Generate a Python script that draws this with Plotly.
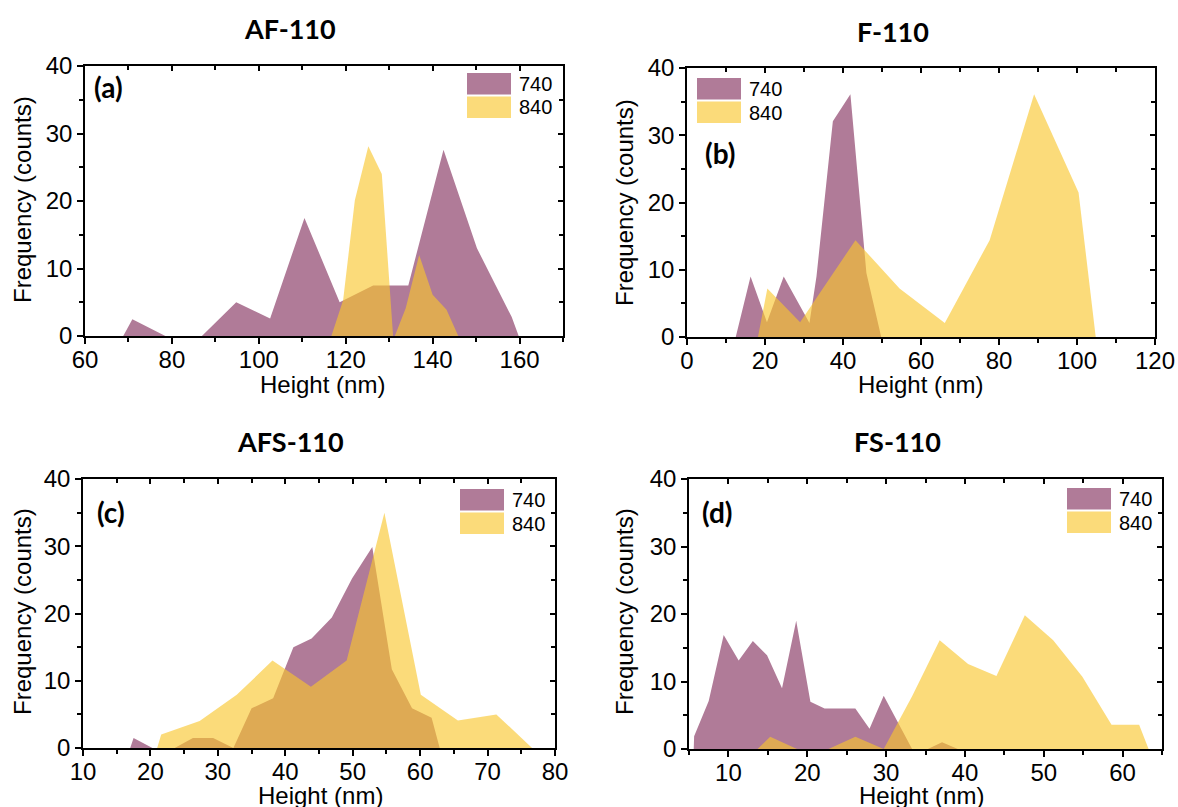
import plotly.graph_objects as go

W, H = 1178, 807

# ---------------- data ----------------
series_names = ["740", "840"]
titles = ["AF-110", "F-110", "AFS-110", "FS-110"]
panel_labels = ["(a)", "(b)", "(c)", "(d)"]
x_title = "Height (nm)"
y_title = "Frequency (counts)"

a_x740 = [68.8, 70.9, 78.5, 86.9, 94.8, 102.6, 110.5, 118.6, 126.3, 134.4, 142.5, 150.2, 158.2, 159.8]
a_y740 = [0, 2.5, 0, 0, 5.0, 2.6, 17.5, 5.0, 7.5, 7.5, 27.6, 13.0, 2.8, 0]
a_x840 = [116.7, 119.4, 122.1, 125.2, 128.3, 130.9, 131.3, 133.8, 136.9, 140.0, 143.2, 145.9]
a_y840 = [0, 5.3, 20.1, 28.1, 24.0, 0, 0, 4.1, 12.0, 6.1, 3.9, 0]

b_x740 = [12.5, 16.3, 20.5, 24.8, 31.4, 33.2, 37.4, 41.9, 46.0, 49.8]
b_y740 = [0, 9.0, 2.2, 9.0, 2.1, 9.0, 32.1, 36.1, 9.5, 0]
b_x840 = [18.2, 20.6, 29.0, 43.2, 54.5, 66.1, 77.6, 89.0, 100.4, 104.8]
b_y840 = [0, 7.2, 2.2, 14.4, 7.2, 2.1, 14.4, 36.1, 21.5, 0]

c_x740 = [17.0, 17.5, 20.3, 23.6, 26.3, 29.3, 32.3, 35.0, 38.2, 41.2, 43.9, 46.9, 49.9, 52.9, 55.8, 58.8, 61.7, 62.9]
c_y740 = [0, 1.5, 0, 0, 1.5, 1.5, 0, 5.9, 7.4, 15.0, 16.3, 19.4, 25.2, 29.9, 11.7, 5.9, 4.5, 0]
c_x840 = [21.0, 21.6, 27.3, 32.8, 38.1, 43.8, 49.1, 54.7, 60.1, 65.6, 71.3, 76.6]
c_y840 = [0, 2.0, 4.0, 7.9, 13.0, 9.1, 13.0, 35.0, 7.9, 4.1, 5.0, 0]

d_x740 = [5.6, 5.65, 7.5, 9.4, 11.3, 13.1, 14.9, 16.8, 18.6, 20.4, 22.2, 24.1, 26.1, 27.9, 29.7, 33.3, 35.3, 37.1, 39.1]
d_y740 = [0, 1.9, 7.1, 16.9, 13.1, 16.0, 13.9, 9.0, 19.0, 7.0, 6.0, 6.0, 6.0, 3.0, 7.9, 0, 0, 1.0, 0]
d_x840 = [13.7, 15.3, 18.7, 22.7, 26.1, 29.7, 33.3, 36.8, 40.4, 44.0, 47.6, 51.2, 54.9, 58.6, 62.1, 63.3]
d_y840 = [0, 1.8, 0, 0, 1.8, 0, 7.8, 16.1, 12.6, 10.8, 19.8, 16.1, 10.7, 3.6, 3.6, 0]

x_ranges = [[60, 170], [0, 120], [10, 80], [5, 65]]
x_tick0 = [60, 0, 10, 10]
x_dtick = [20, 20, 10, 10]
x_minor = [10, 10, 5, 5]
y_range = [0, 40]

# ---------------- styling / layout ----------------
PURPLE = "rgb(176,123,152)"
YELLOW = "rgba(248,198,45,0.63)"
ARIAL = "Liberation Sans, Arial, sans-serif"
TICK_FONT = dict(family=ARIAL, size=24, color="black")
BOLD_FONT = "Lato, Open Sans, sans-serif"

# plot-area pixel boxes (left, right, top, bottom)
boxes = [(85, 563, 66, 336), (687, 1155, 68, 337), (83, 555, 479, 748), (689, 1162, 479, 749)]
title_pos = [(290, 28), (893, 32), (290, 441), (897, 441)]
label_pos = [(108, 87), (720, 153), (111, 512), (717, 512)]
legend_pos = [(467, 73), (697, 78), (460, 489), (1067, 488)]
xlab_pos = [(322, 384), (920, 384), (320, 795), (922, 795)]
ylab_pos = [(22, 200), (624, 203), (22, 612), (624, 612)]

data = [(a_x740, a_y740, a_x840, a_y840), (b_x740, b_y740, b_x840, b_y840),
        (c_x740, c_y740, c_x840, c_y840), (d_x740, d_y740, d_x840, d_y840)]


def px(x):
    return x / W


def py(y):
    return 1 - y / H


fig = go.Figure()
layout = dict(width=W, height=H, margin=dict(l=0, r=0, t=0, b=0, autoexpand=False),
              plot_bgcolor="white", paper_bgcolor="white", showlegend=False)
annotations = []
shapes = []

for i in range(4):
    n = i + 1
    xs = "" if n == 1 else str(n)
    xt = str(n + 4)
    l, r, t, b = boxes[i]
    x740, y740, x840, y840 = data[i]
    fig.add_trace(go.Scatter(x=x740, y=y740, fill="tozeroy", mode="lines",
                             line=dict(width=0, color=PURPLE), fillcolor=PURPLE,
                             name=series_names[0], xaxis="x" + xs, yaxis="y" + xs,
                             hoverinfo="x+y"))
    fig.add_trace(go.Scatter(x=x840, y=y840, fill="tozeroy", mode="lines",
                             line=dict(width=0, color=YELLOW), fillcolor=YELLOW,
                             name=series_names[1], xaxis="x" + xs, yaxis="y" + xs,
                             hoverinfo="x+y"))
    # invisible trace to activate mirrored (inward-tick) top/right axes
    fig.add_trace(go.Scatter(x=[x_ranges[i][0]], y=[0], mode="markers",
                             marker=dict(opacity=0), hoverinfo="skip",
                             xaxis="x" + xt, yaxis="y" + xt))
    common = dict(showgrid=False, zeroline=False, automargin=False)
    layout["xaxis" + xs] = dict(domain=[px(l), px(r)], range=x_ranges[i], anchor="y" + xs,
                                tickmode="linear", tick0=x_tick0[i], dtick=x_dtick[i],
                                ticks="outside", ticklen=6, tickwidth=1.5, tickcolor="black",
                                minor=dict(tickmode="linear", tick0=x_tick0[i], dtick=x_minor[i],
                                           ticks="outside", ticklen=4, tickwidth=1.5, tickcolor="black"),
                                showline=True, linecolor="black", linewidth=1.6, mirror=True,
                                tickfont=TICK_FONT, ticklabelstandoff=-5, **common)
    layout["yaxis" + xs] = dict(domain=[py(b), py(t)], range=y_range, anchor="x" + xs,
                                tickmode="linear", tick0=0, dtick=10,
                                ticks="outside", ticklen=6, tickwidth=1.5, tickcolor="black",
                                minor=dict(tickmode="linear", tick0=0, dtick=5,
                                           ticks="outside", ticklen=4, tickwidth=1.5, tickcolor="black"),
                                showline=True, linecolor="black", linewidth=1.6, mirror=True,
                                tickfont=TICK_FONT, ticklabelstandoff=0, **common)
    layout["xaxis" + xt] = dict(overlaying="x" + xs, side="top", anchor="y" + xs, range=x_ranges[i],
                                tickmode="linear", tick0=x_tick0[i], dtick=x_dtick[i],
                                ticks="inside", ticklen=5, tickwidth=1.5, tickcolor="black",
                                minor=dict(tickmode="linear", tick0=x_tick0[i], dtick=x_minor[i],
                                           ticks="inside", ticklen=4, tickwidth=1.5, tickcolor="black"),
                                showticklabels=False, showline=False, **common)
    layout["yaxis" + xt] = dict(overlaying="y" + xs, side="right", anchor="x" + xs, range=y_range,
                                tickmode="linear", tick0=0, dtick=10,
                                ticks="inside", ticklen=5, tickwidth=1.5, tickcolor="black",
                                minor=dict(tickmode="linear", tick0=0, dtick=5,
                                           ticks="inside", ticklen=4, tickwidth=1.5, tickcolor="black"),
                                showticklabels=False, showline=False, **common)

    # titles
    tx, ty = title_pos[i]
    annotations.append(dict(text="<b>%s</b>" % titles[i], x=px(tx), y=py(ty), xref="paper", yref="paper",
                            showarrow=False, xanchor="center", yanchor="middle",
                            font=dict(family=BOLD_FONT, size=27, color="black")))
    lx, ly = label_pos[i]
    annotations.append(dict(text="<b>%s</b>" % panel_labels[i], x=px(lx), y=py(ly), xref="paper", yref="paper",
                            showarrow=False, xanchor="center", yanchor="middle",
                            font=dict(family=BOLD_FONT, size=28, color="black")))
    ax_, ay_ = xlab_pos[i]
    annotations.append(dict(text=x_title, x=px(ax_), y=py(ay_), xref="paper", yref="paper",
                            showarrow=False, xanchor="center", yanchor="middle",
                            font=dict(family=ARIAL, size=24, color="black")))
    bx, by = ylab_pos[i]
    annotations.append(dict(text=y_title, x=px(bx), y=py(by), xref="paper", yref="paper",
                            showarrow=False, xanchor="center", yanchor="middle", textangle=-90,
                            font=dict(family=ARIAL, size=24, color="black")))
    # legend patches + text
    gx, gy = legend_pos[i]
    for k, col in enumerate([PURPLE, YELLOW]):
        y0 = gy + k * 23.5
        shapes.append(dict(type="rect", xref="paper", yref="paper",
                           x0=px(gx), x1=px(gx + 44), y0=py(y0), y1=py(y0 + 21.5),
                           fillcolor=col, line=dict(width=0)))
        annotations.append(dict(text=series_names[k], x=px(gx + 50), y=py(y0 + 11), xref="paper", yref="paper",
                                showarrow=False, xanchor="left", yanchor="middle",
                                font=dict(family=ARIAL, size=20, color="black")))

layout["annotations"] = annotations
layout["shapes"] = shapes
fig.update_layout(**layout)
fig.write_html("out.html")
